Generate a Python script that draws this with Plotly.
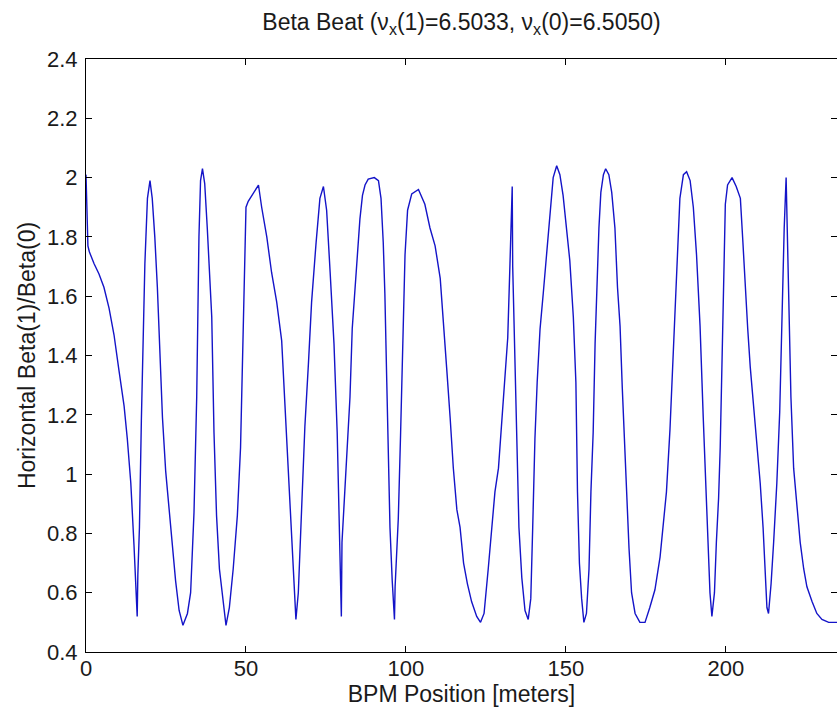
import plotly.graph_objects as go

# BPM position [m]
s_pos = [0.0, 0.6, 1.04, 2.5, 4.06, 5.6, 7.2, 8.75, 10.3, 11.9, 12.9, 14.0, 15.0, 15.5, 16.0, 16.2, 16.7,
         17.3, 17.9, 18.4, 19.2, 20.0, 20.7, 21.5, 22.3, 23.1, 23.9, 24.9, 26.0, 27.0, 28.0, 29.1, 30.3,
         31.7, 32.7, 33.75, 34.6, 35.3, 35.8, 36.4, 37.1, 37.9, 39.3, 40.0, 40.8, 41.7, 42.7, 43.75, 44.8,
         46.0, 47.3, 48.3, 49.2, 50.0, 50.7, 51.8, 53.9, 54.9, 56.5, 58.0, 59.6, 61.15, 62.2, 63.2, 64.3,
         65.3, 65.6, 66.35, 67.4, 68.4, 69.5, 70.5, 71.9, 73.1, 74.2, 75.2, 76.3, 77.5, 78.5, 79.3, 79.8,
         80.0, 81.1, 81.8, 82.5, 83.2, 84.1, 84.9, 85.6, 86.4, 87.2, 88.2, 90.1, 91.4, 92.2, 92.9, 93.4,
         94.0, 94.5, 95.0, 95.7, 96.4, 96.6, 97.6, 98.3, 99.0, 99.7, 100.5, 101.8, 103.9, 105.9, 107.5,
         109.1, 110.7, 111.7, 112.7, 113.8, 114.8, 115.9, 116.9, 118.0, 119.2, 120.5, 122.1, 123.3, 124.4,
         125.7, 126.8, 127.8, 128.9, 129.9, 130.9, 131.8, 132.5, 133.2, 133.35, 134.1, 134.6, 135.3, 136.2,
         137.2, 138.2, 139.0, 139.6, 140.3, 141.0, 141.9, 142.9, 144.0, 145.0, 146.0, 147.1, 148.1, 149.1,
         150.2, 151.2, 152.3, 153.1, 153.6, 154.2, 154.9, 155.6, 156.4, 157.2, 157.8, 158.5, 159.1, 159.8,
         160.3, 160.9, 161.7, 162.4, 163.4, 164.3, 165.3, 166.1, 166.9, 167.6, 168.2, 168.96, 169.7, 170.5,
         171.6, 173.1, 174.7, 176.2, 177.8, 179.4, 180.4, 181.4, 182.5, 183.2, 184.1, 184.9, 185.6, 186.7,
         187.7, 188.8, 189.8, 190.8, 191.9, 192.9, 193.7, 194.3, 195.0, 195.6, 196.4, 197.0, 197.7, 198.2,
         198.75, 199.3, 199.8, 200.5, 201.9, 203.2, 204.5, 205.3, 206.0, 206.8, 207.6, 208.6, 209.7, 210.7,
         211.6, 212.3, 212.8, 213.3, 214.1, 214.9, 215.9, 216.8, 217.5, 218.2, 218.8, 219.1, 219.6, 220.3,
         221.15, 222.2, 223.2, 224.3, 225.3, 226.9, 228.4, 230.0, 232.1, 234.7]

# Beta(1)/Beta(0)
beta_ratio = [2.01, 1.77, 1.75, 1.71, 1.675, 1.63, 1.56, 1.47, 1.35, 1.23, 1.12, 0.97, 0.76, 0.66, 0.52, 0.66, 0.82,
              1.18, 1.44, 1.71, 1.93, 1.99, 1.93, 1.80, 1.63, 1.41, 1.19, 1.01, 0.88, 0.76, 0.64, 0.54, 0.49,
              0.53, 0.60, 0.87, 1.26, 1.80, 1.99, 2.03, 1.98, 1.83, 1.53, 1.14, 0.86, 0.68, 0.58, 0.49, 0.55,
              0.68, 0.86, 1.09, 1.52, 1.90, 1.92, 1.94, 1.975, 1.90, 1.80, 1.68, 1.58, 1.45, 1.23, 0.98, 0.76,
              0.54, 0.51, 0.60, 0.87, 1.16, 1.37, 1.58, 1.78, 1.93, 1.97, 1.89, 1.68, 1.44, 1.14, 0.77, 0.52,
              0.77, 0.97, 1.12, 1.26, 1.49, 1.64, 1.77, 1.86, 1.94, 1.975, 1.995, 2.0, 1.99, 1.93, 1.78, 1.61,
              1.31, 1.07, 0.82, 0.64, 0.51, 0.62, 0.85, 1.13, 1.41, 1.74, 1.89, 1.945, 1.96, 1.91, 1.83,
              1.77, 1.66, 1.52, 1.36, 1.19, 1.02, 0.88, 0.82, 0.70, 0.63, 0.57, 0.52, 0.50, 0.53,
              0.68, 0.82, 0.94, 1.02, 1.17, 1.31, 1.46, 1.71, 1.97, 1.70, 1.36, 1.07, 0.82, 0.65,
              0.54, 0.51, 0.58, 0.82, 1.12, 1.31, 1.49, 1.61, 1.75, 1.89, 2.0, 2.04, 2.01, 1.94,
              1.83, 1.72, 1.53, 1.31, 0.94, 0.70, 0.58, 0.50, 0.53, 0.68, 0.94, 1.14, 1.44, 1.69,
              1.83, 1.95, 2.01, 2.03, 2.01, 1.95, 1.83, 1.63, 1.50, 1.29, 1.12, 0.94, 0.75, 0.60,
              0.53, 0.50, 0.50, 0.55, 0.61, 0.72, 0.82, 0.94, 1.15, 1.33, 1.60, 1.79, 1.93, 2.01,
              2.02, 1.99, 1.90, 1.74, 1.50, 1.19, 0.94, 0.76, 0.60, 0.52, 0.60, 0.77, 0.92, 1.09,
              1.40, 1.68, 1.91, 1.975, 2.0, 1.97, 1.93, 1.78, 1.63, 1.49, 1.36, 1.23, 1.09, 0.97,
              0.82, 0.64, 0.55, 0.53, 0.63, 0.77, 0.97, 1.21, 1.56, 1.83, 2.0, 1.83, 1.61, 1.26,
              1.02, 0.88, 0.77, 0.68, 0.62, 0.57, 0.53, 0.51, 0.50, 0.50]

x_ticks = [0, 50, 100, 150, 200]
y_ticks = [0.4, 0.6, 0.8, 1.0, 1.2, 1.4, 1.6, 1.8, 2.0, 2.2, 2.4]
y_tick_labels = ["0.4", "0.6", "0.8", "1", "1.2", "1.4", "1.6", "1.8", "2", "2.2", "2.4"]

FONT = "Liberation Sans, Arial, Helvetica, sans-serif"
TXT = "#1a1a1a"

fig = go.Figure()
fig.add_trace(go.Scatter(x=s_pos, y=beta_ratio, mode="lines",
                         line=dict(color="#1414c8", width=1.4), showlegend=False,
                         hoverinfo="skip"))

fig.update_layout(
    width=837, height=715,
    margin=dict(l=86, r=0, t=59, b=63),
    paper_bgcolor="white", plot_bgcolor="white",
    font=dict(family=FONT, size=22, color=TXT),
    title=dict(text="Beta Beat (ν<sub>x</sub>(1)=6.5033, ν<sub>x</sub>(0)=6.5050)",
               x=0.5, xref="paper", xanchor="center",
               y=1 - 22 / 715, yref="container", yanchor="middle",
               font=dict(family=FONT, size=23, color=TXT)),
)
fig.update_xaxes(range=[0, 234.7], tickvals=x_ticks, ticks="inside", ticklen=6,
                 tickcolor="black", showline=True, linecolor="black", linewidth=1,
                 mirror="ticks", showgrid=False, zeroline=False,
                 ticklabelstandoff=-3,
                 title=dict(text="BPM Position [meters]", standoff=2,
                            font=dict(family=FONT, size=23, color=TXT)),
                 tickfont=dict(family=FONT, size=22, color=TXT))
fig.update_yaxes(range=[0.4, 2.4], tickvals=y_ticks, ticktext=y_tick_labels,
                 ticks="inside", ticklen=6, tickcolor="black",
                 showline=True, linecolor="black", linewidth=1, mirror="ticks",
                 showgrid=False, zeroline=False,
                 ticklabelstandoff=3,
                 title=dict(text="Horizontal Beta(1)/Beta(0)", standoff=4,
                            font=dict(family=FONT, size=23, color=TXT)),
                 tickfont=dict(family=FONT, size=22, color=TXT))

fig.write_html("out.html")
